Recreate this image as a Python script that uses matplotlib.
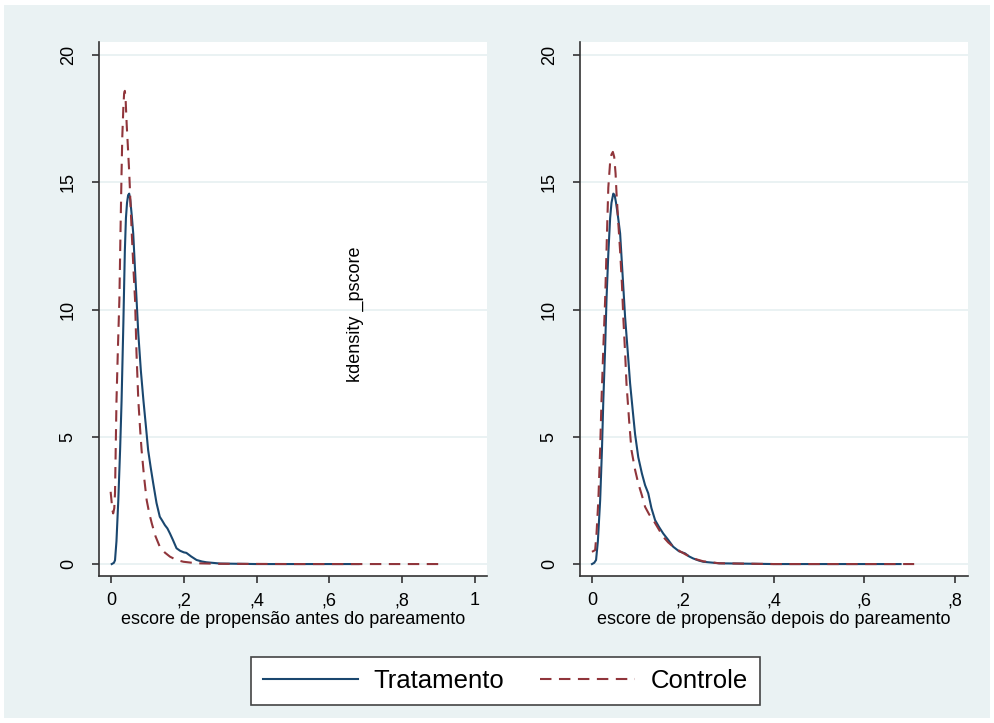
import numpy as np
import matplotlib
matplotlib.use("Agg")
import matplotlib.pyplot as plt
from matplotlib.patches import Rectangle

plt.rcParams['font.family'] = ['Liberation Sans', 'DejaVu Sans']

# colours (Stata s2color)
navy = '#1A476F'
maroon = '#90353B'
bg = '#EAF2F3'

# densities: before matching
antes_trat_x = [0.002, 0.008, 0.011, 0.015, 0.020, 0.025, 0.029, 0.034, 0.038, 0.041, 0.044,
                0.047, 0.050, 0.053, 0.057, 0.061, 0.068, 0.075, 0.082, 0.089, 0.096,
                0.102, 0.109, 0.116, 0.125, 0.134, 0.141, 0.148, 0.155, 0.162, 0.170,
                0.180, 0.190, 0.200, 0.207, 0.220, 0.235, 0.250, 0.262, 0.300, 0.400, 0.500, 0.680]
antes_trat_y = [0.0, 0.05, 0.15, 0.9, 2.5, 4.5, 6.4, 9.5, 12.3, 13.6, 14.2,
                14.5, 14.56, 14.3, 13.7, 13.0, 11.0, 9.06, 7.6, 6.44, 5.4,
                4.48, 3.8, 3.17, 2.4, 1.86, 1.7, 1.53, 1.4, 1.2, 0.95,
                0.62, 0.52, 0.46, 0.44, 0.3, 0.16, 0.1, 0.07, 0.02, 0.0, 0.0, 0.0]
antes_ctrl_x = [-0.001, 0.004, 0.006, 0.009, 0.011, 0.015, 0.019, 0.023, 0.026, 0.029, 0.031,
                0.034, 0.036, 0.038, 0.040, 0.043, 0.046, 0.050, 0.057, 0.062, 0.066, 0.070,
                0.075, 0.080, 0.084, 0.091, 0.098, 0.105, 0.112, 0.122, 0.134, 0.148,
                0.162, 0.180, 0.199, 0.235, 0.300, 0.500, 0.700, 0.917]
antes_ctrl_y = [2.84, 2.1, 1.99, 2.2, 2.8, 6.4, 8.5, 10.4, 13.0, 15.4, 16.8,
                17.97, 18.5, 18.6, 18.3, 17.3, 16.5, 15.4, 13.0, 11.5, 10.4, 8.3,
                6.44, 5.3, 4.48, 3.4, 2.51, 2.0, 1.6, 1.1, 0.68, 0.45,
                0.29, 0.16, 0.09, 0.03, 0.01, 0.0, 0.0, 0.0]

# densities: after matching
depois_trat_x = [0.0, 0.005, 0.009, 0.013, 0.018, 0.022, 0.025, 0.029, 0.032, 0.036, 0.040,
                 0.043, 0.047, 0.050, 0.053, 0.057, 0.062, 0.068, 0.073, 0.079, 0.084,
                 0.090, 0.095, 0.102, 0.110, 0.117, 0.124, 0.131, 0.139, 0.148, 0.157,
                 0.168, 0.179, 0.192, 0.205, 0.214, 0.223, 0.235, 0.245, 0.280, 0.400, 0.680]
depois_trat_y = [0.0, 0.05, 0.16, 0.9, 2.5, 4.5, 6.44, 8.5, 10.4, 12.2, 13.6,
                 14.2, 14.56, 14.5, 14.2, 13.7, 13.0, 11.2, 9.7, 8.3, 7.1,
                 6.0, 5.1, 4.2, 3.56, 3.1, 2.78, 2.2, 1.73, 1.45, 1.2,
                 0.95, 0.68, 0.5, 0.42, 0.3, 0.22, 0.14, 0.09, 0.03, 0.0, 0.0]
depois_ctrl_x = [0.0, 0.007, 0.010, 0.014, 0.018, 0.021, 0.025, 0.029, 0.032, 0.034, 0.036,
                 0.040, 0.043, 0.046, 0.049, 0.052, 0.054, 0.058, 0.062, 0.066, 0.069,
                 0.073, 0.076, 0.082, 0.087, 0.095, 0.102, 0.110, 0.117, 0.126, 0.135,
                 0.146, 0.157, 0.168, 0.179, 0.194, 0.209, 0.227, 0.245,
                 0.280, 0.400, 0.710]
depois_ctrl_y = [0.48, 0.55, 1.2, 2.5, 4.5, 6.44, 8.5, 10.4, 12.3, 13.6, 14.8,
                 15.8, 16.1, 16.2, 16.0, 15.35, 14.6, 13.4, 12.3, 11.0, 9.7,
                 8.3, 7.1, 5.6, 4.48, 3.7, 3.17, 2.7, 2.25, 1.95, 1.73,
                 1.4, 1.07, 0.85, 0.68, 0.5, 0.35, 0.2, 0.11,
                 0.03, 0.0, 0.0]

yticks = [0, 5, 10, 15, 20]
left_xticks = [0, 0.2, 0.4, 0.6, 0.8, 1.0]
left_xlabels = ['0', ',2', ',4', ',6', ',8', '1']
right_xticks = [0, 0.2, 0.4, 0.6, 0.8]
right_xlabels = ['0', ',2', ',4', ',6', ',8']

fig = plt.figure(figsize=(9.94, 7.23), dpi=100, facecolor='white')
fig.patches.append(Rectangle((4/994, 5/723), 986/994, 713/723, transform=fig.transFigure,
                             facecolor=bg, edgecolor='none', zorder=-10))

ax1 = fig.add_axes([99/994, 1-575.5/723, 388/994, 533/723])
ax2 = fig.add_axes([580/994, 1-575.5/723, 387.5/994, 533/723])

dash = (0, (5.5, 3.6))

def style(ax, xt, xl, xlim, label):
    ax.set_facecolor('white')
    for s in ['top', 'right']:
        ax.spines[s].set_visible(False)
    for s in ['left', 'bottom']:
        ax.spines[s].set_color('#333333')
        ax.spines[s].set_linewidth(1.2)
    ax.set_ylim(-0.45, 20.5)
    ax.set_xlim(*xlim)
    ax.set_yticks(yticks)
    ax.set_yticklabels([str(v) for v in yticks], rotation=90, va='center', fontsize=13)
    ax.set_xticks(xt)
    ax.set_xticklabels(xl, fontsize=13)
    ax.tick_params(axis='both', length=5, width=1.2, color='#333333', direction='out')
    ax.tick_params(axis='y', pad=11)
    ax.tick_params(axis='x', pad=7)
    ax.grid(axis='y', color=bg, linewidth=1.4)
    ax.set_axisbelow(True)
    ax.set_xlabel(label, fontsize=13, labelpad=1)

ax1.plot(antes_trat_x, antes_trat_y, color=navy, lw=1.5, label='Tratamento')
ax1.plot(antes_ctrl_x, antes_ctrl_y, color=maroon, lw=1.5, linestyle=dash, label='Controle')
style(ax1, left_xticks, left_xlabels, (-0.033, 1.033), 'escore de propensão antes do pareamento')

ax2.plot(depois_trat_x, depois_trat_y, color=navy, lw=1.5)
ax2.plot(depois_ctrl_x, depois_ctrl_y, color=maroon, lw=1.5, linestyle=dash)
style(ax2, right_xticks, right_xlabels, (-0.0264, 0.8275), 'escore de propensão depois do pareamento')

fig.text(355/994, 1-314/723, 'kdensity _pscore', rotation=90, ha='center', va='center', fontsize=13)

h, l = ax1.get_legend_handles_labels()
leg = fig.legend(h, l, loc='center', bbox_to_anchor=(505.5/994, 1-681/723), ncol=2,
                 fontsize=18.5, handlelength=3.7, columnspacing=1.4, handletextpad=0.6,
                 fancybox=False, framealpha=1, edgecolor='#444444', borderpad=0.45,
                 borderaxespad=0)
leg.get_frame().set_linewidth(1.2)

fig.savefig('out.png', dpi=100, facecolor=fig.get_facecolor())
